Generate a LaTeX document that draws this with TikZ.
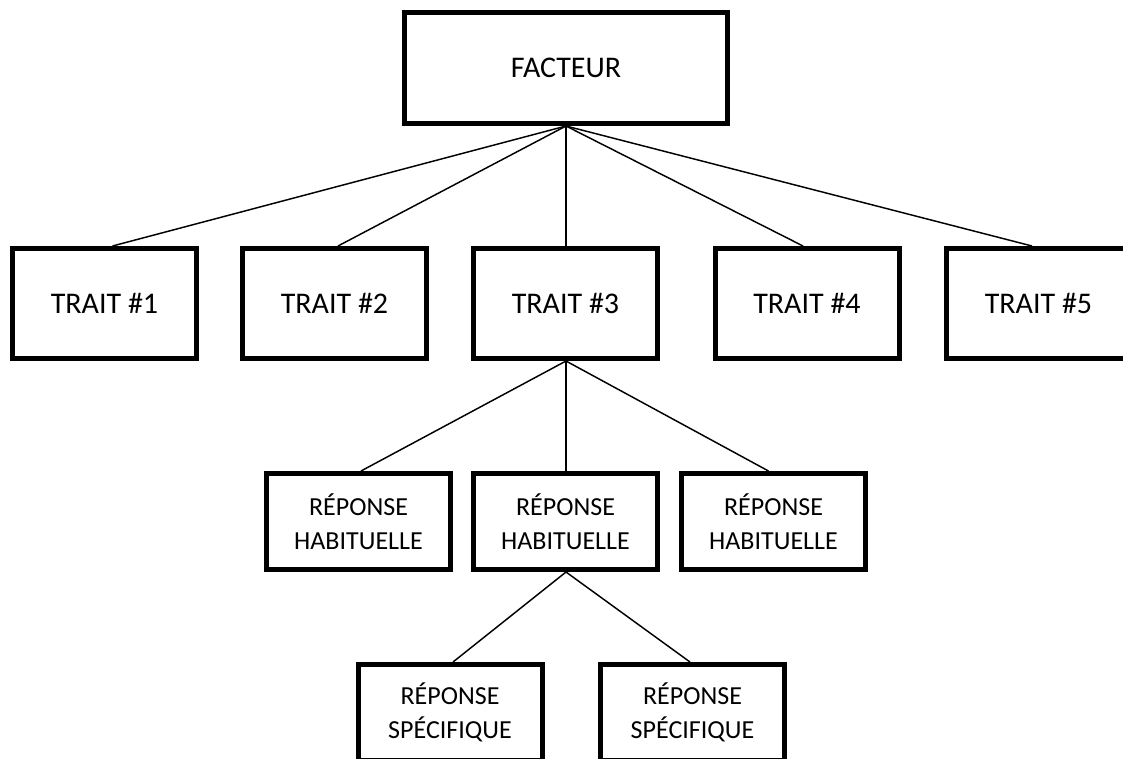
\documentclass[tikz,border=0pt]{standalone}
\usepackage{fontspec}
\setmainfont{Carlito}
\usetikzlibrary{calc}
\begin{document}
\begin{tikzpicture}[x=0.75pt,y=-0.75pt,
  boxbase/.style={draw=black, line width=3.75pt, rectangle, inner sep=0pt, align=center, fill=white},
  bigbox/.style={boxbase, font=\fontsize{22.5}{27}\selectfont},
  topbox/.style={bigbox, minimum width=242.25pt, minimum height=83.25pt},
  traitbox/.style={bigbox, minimum width=138pt, minimum height=82.5pt},
  smallbox/.style={boxbase, font=\fontsize{19.5}{25.5}\selectfont, minimum width=138pt, minimum height=72pt},
  link/.style={draw=black, line width=1.1pt}]
\useasboundingbox (0,0) rectangle (1123,758);
% top
\node[topbox] (f) at (566,68) {FACTEUR};
% traits
\node[traitbox] (t1) at (104.5,303.5) {TRAIT \#1};
\node[traitbox] (t2) at (334.5,303.5) {TRAIT \#2};
\node[traitbox] (t3) at (565.5,303.5) {TRAIT \#3};
\node[traitbox] (t4) at (807,303.5) {TRAIT \#4};
\node[traitbox] (t5) at (1038.5,303.5) {TRAIT \#5};
% habitual responses
\node[smallbox] (m1) at (358.5,521.5) {RÉPONSE\\HABITUELLE};
\node[smallbox] (m2) at (565.5,521.5) {RÉPONSE\\HABITUELLE};
\node[smallbox] (m3) at (773.5,521.5) {RÉPONSE\\HABITUELLE};
% specific responses
\node[smallbox] (b1) at (450,712.5) {RÉPONSE\\SPÉCIFIQUE};
\node[smallbox] (b2) at (692.5,712.5) {RÉPONSE\\SPÉCIFIQUE};
% connectors
\draw[link] (f.south) -- ($(t1.north)+(8,0)$);
\draw[link] (f.south) -- ($(t2.north)+(3.5,0)$);
\draw[link] (f.south) -- ($(t3.north)+(0.5,0)$);
\draw[link] (f.south) -- ($(t4.north)+(-4,0)$);
\draw[link] (f.south) -- ($(t5.north)+(-6.5,0)$);
\draw[link] ($(t3.south)+(0.5,0)$) -- ($(m1.north)+(2.5,0)$);
\draw[link] ($(t3.south)+(0.5,0)$) -- ($(m2.north)+(0.5,0)$);
\draw[link] ($(t3.south)+(0.5,0)$) -- ($(m3.north)+(-5,0)$);
\draw[link] ($(m2.south)+(0.5,0)$) -- ($(b1.north)+(3,0)$);
\draw[link] ($(m2.south)+(0.5,0)$) -- ($(b2.north)+(-2.5,0)$);
\end{tikzpicture}
\end{document}
